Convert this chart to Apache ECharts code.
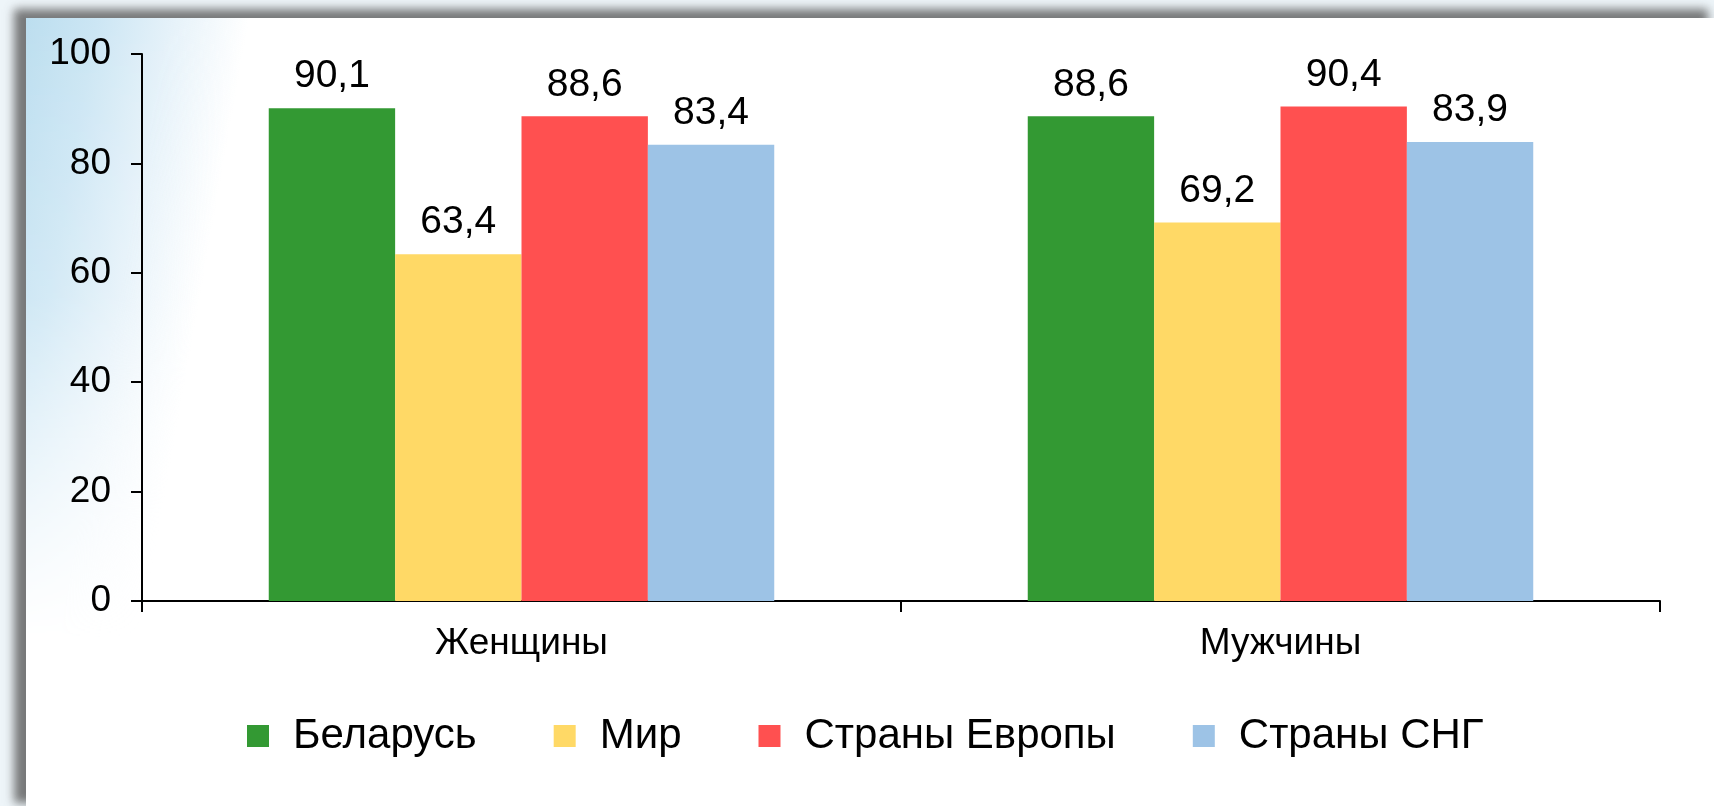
<!DOCTYPE html>
<html>
<head>
<meta charset="utf-8">
<script src="https://cdn.jsdelivr.net/npm/echarts@6/dist/echarts.min.js"></script>
<style>
  html, body { margin: 0; padding: 0; width: 1714px; height: 806px; overflow: hidden; background: #eef5f9; }
  /* рамка с тенью */
  .frame {
    position: absolute; left: 26px; top: 18px; width: 1688px; height: 788px;
    background: #ffffff;
    box-shadow: -9px -6px 9px 3px rgba(90, 90, 90, 0.8);
  }
  /* голубой блик слева сверху */
  .glare {
    position: absolute; left: 26px; top: 18px; width: 320px; height: 620px;
    background: linear-gradient(100deg, #bcdeef 0px, #cce6f4 70px, #e4f1f9 140px, rgba(255,255,255,0) 220px);
    -webkit-mask-image: linear-gradient(to bottom, #000 0%, rgba(0,0,0,0.85) 45%, rgba(0,0,0,0) 100%);
    mask-image: linear-gradient(to bottom, #000 0%, rgba(0,0,0,0.85) 45%, rgba(0,0,0,0) 100%);
  }
  #chart { position: absolute; left: 0; top: 0; width: 1714px; height: 806px; }
</style>
</head>
<body>
<div class="frame"></div>
<div class="glare"></div>
<div id="chart"></div>
<script>
// данные
var categories = ['Женщины', 'Мужчины'];
var seriesNames = ['Беларусь', 'Мир', 'Страны Европы', 'Страны СНГ'];
var belarus = [90.1, 88.6];
var world = [63.4, 69.2];
var europe = [88.6, 90.4];
var cis = [83.4, 83.9];
var colors = ['#339933', '#ffd966', '#ff5050', '#9dc3e6'];

var font = 'Liberation Sans, Arial, sans-serif';

function bar(name, data, color) {
  return {
    name: name,
    type: 'bar',
    data: data,
    barGap: 0,
    barCategoryGap: '33.4%',
    itemStyle: { color: color },
    label: {
      show: true,
      position: 'top',
      distance: 12,
      color: '#000',
      fontSize: 39,
      fontFamily: font,
      formatter: function (p) { return String(p.value).replace('.', ','); }
    }
  };
}

var myChart = echarts.init(document.getElementById('chart'));
var option = {
  backgroundColor: 'transparent',
  animation: false,
  color: colors,
  grid: { left: 142, right: 54, top: 54, bottom: 205 },
  legend: {
    left: 247,
    top: 715,
    padding: 0,
    itemWidth: 22,
    itemHeight: 22,
    itemGap: 77,
    icon: 'rect',
    textStyle: { fontSize: 42, fontFamily: font, color: '#000', padding: [0, 0, 0, 19] },
    data: seriesNames
  },
  xAxis: {
    type: 'category',
    data: categories,
    axisLine: { lineStyle: { color: '#000', width: 2 } },
    axisTick: { show: true, length: 11, lineStyle: { color: '#000', width: 2 } },
    axisLabel: { color: '#000', fontSize: 37, fontFamily: font, margin: 24 }
  },
  yAxis: {
    type: 'value',
    min: 0,
    max: 100,
    interval: 20,
    splitLine: { show: false },
    axisLine: { show: true, lineStyle: { color: '#000', width: 2 } },
    axisTick: { show: true, length: 11, lineStyle: { color: '#000', width: 2 } },
    axisLabel: { color: '#000', fontSize: 37, fontFamily: font, margin: 31 }
  },
  series: [
    bar(seriesNames[0], belarus, colors[0]),
    bar(seriesNames[1], world, colors[1]),
    bar(seriesNames[2], europe, colors[2]),
    bar(seriesNames[3], cis, colors[3])
  ]
};
myChart.setOption(option);
</script>
</body>
</html>
